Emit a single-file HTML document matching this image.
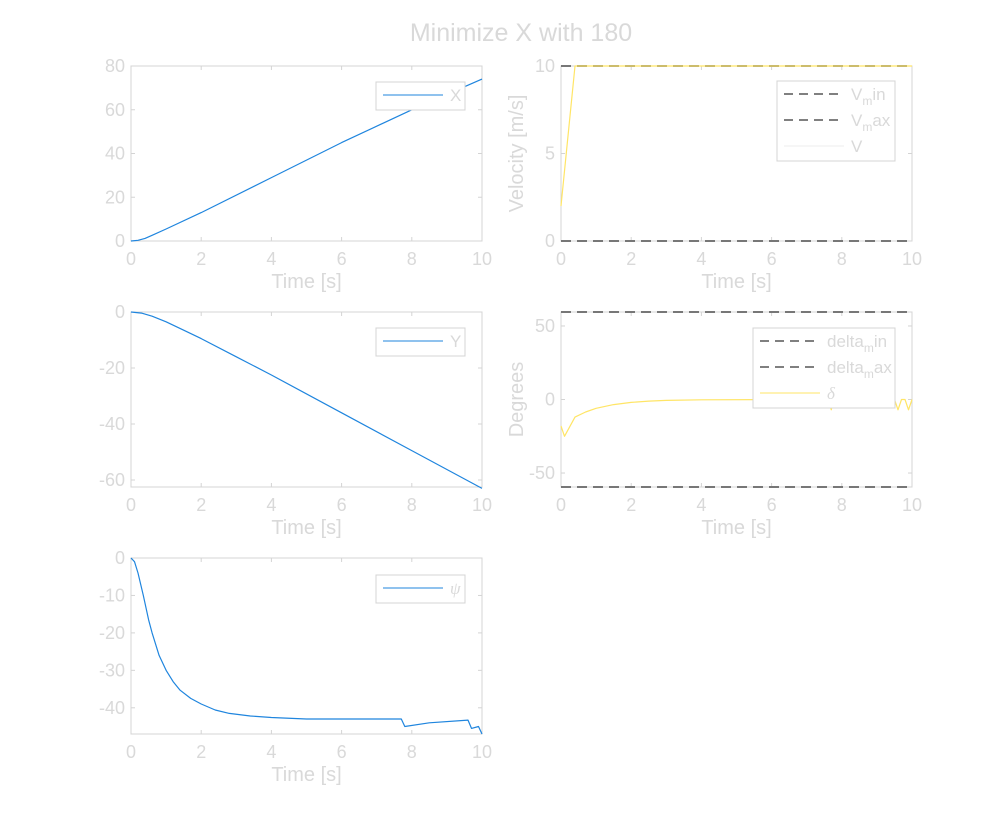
<!DOCTYPE html>
<html><head><meta charset="utf-8"><style>
body{margin:0;background:#fff;font-family:"Liberation Sans",sans-serif}
svg text{font-family:"Liberation Sans",sans-serif;fill:#d9d9d9}
</style></head><body>
<svg id="fig" width="1008" height="825">
<text x="521" y="41" font-size="25" text-anchor="middle">Minimize X with 180</text>
</svg>
<script>
const tX=[0,0.2,0.4,0.6,1,2,4,6,8,10];
const vX=[0,0.3,1.2,2.6,5.5,13,29,45,60,74];
const tY=[0,0.3,0.6,1,1.5,2,3,4,6,8,10];
const vY=[0,-0.4,-1.5,-3.5,-6.5,-9.5,-16,-22.5,-36,-49.5,-63];
const tV=[0,0.4,10];
const vV=[2,10,10];
const tD=[0,0.1,0.4,0.7,1,1.5,2,2.5,3,4,7.6,7.7,7.75,9.5,9.6,9.7,9.8,9.9,10];
const vD=[-18,-25,-12,-8.5,-6,-3.5,-2,-1.1,-0.6,-0.2,0,-7,0,0,-7,0,0,-7,0];
const tP=[0,0.1,0.2,0.35,0.5,0.6,0.8,1,1.2,1.4,1.7,2,2.4,2.8,3.4,4,5,7.7,7.8,8.5,9.6,9.7,9.9,10];
const vP=[0,-1,-4,-10,-16.5,-20,-26,-30,-33,-35.3,-37.5,-39,-40.6,-41.5,-42.2,-42.6,-43,-43,-45,-44,-43.3,-45.5,-45,-47];
const xTicks=[0,2,4,6,8,10];
const NS="http://www.w3.org/2000/svg";
const svg=document.getElementById('fig');
function el(t,a,p){const e=document.createElementNS(NS,t);for(const k in a)e.setAttribute(k,a[k]);(p||svg).appendChild(e);return e;}
function axes(name,L,T,W,H,ymin,ymax,yticks,ylabel){
 const g=el('g',{});
 
 
 const sx=t=>L+t/10*W, sy=v=>T+(ymax-v)/(ymax-ymin)*H;
 el('rect',{x:L,y:T,width:W,height:H,fill:'none',stroke:'#d4d4d4'},g);
 xTicks.forEach(t=>{el('line',{x1:sx(t),x2:sx(t),y1:T+H,y2:T+H-4,stroke:'#d4d4d4'},g);el('line',{x1:sx(t),x2:sx(t),y1:T,y2:T+4,stroke:'#d4d4d4'},g);
  const tx=el('text',{x:sx(t),y:T+H+24,'font-size':18,'text-anchor':'middle'},g);tx.textContent=t;});
 yticks.forEach(v=>{el('line',{x1:L,x2:L+4,y1:sy(v),y2:sy(v),stroke:'#d4d4d4'},g);el('line',{x1:L+W,x2:L+W-4,y1:sy(v),y2:sy(v),stroke:'#d4d4d4'},g);
  const tx=el('text',{x:L-6,y:sy(v)+6,'font-size':18,'text-anchor':'end'},g);tx.textContent=v;});
 const xl=el('text',{x:L+W/2,y:T+H+47,'font-size':20,'text-anchor':'middle'},g);xl.textContent='Time [s]';
 
 if(ylabel){const yl=el('text',{x:0,y:0,'font-size':20,'text-anchor':'middle',transform:`translate(${L-38},${T+H/2}) rotate(-90)`},g);yl.textContent=ylabel;
  }
 return {g,sx,sy};
}
function line(ax,ts,vs,color,name,extra){
 const d=ts.map((t,i)=>(i?'L':'M')+ax.sx(t).toFixed(1)+','+ax.sy(vs[i]).toFixed(1)).join('');
 const p=el('path',Object.assign({d,fill:'none',stroke:color,'stroke-width':1.2,'stroke-linejoin':'round'},extra||{}),ax.g);
 
 
}
function legend(ax,x,y,w,entries){
 const h=entries.length*26+2;
 const g=el('g',{},ax.g);
 
 
 el('rect',{x,y,width:w,height:h,fill:'#fff',stroke:'#d4d4d4'},g);
 entries.forEach((e,i)=>{const cy=y+13+i*26;
  el('line',{x1:x+7,x2:x+67,y1:cy,y2:cy,stroke:e.c,'stroke-width':1,'stroke-dasharray':e.dash||''},g);
  const t=el('text',{x:x+74,y:cy+6,'font-size':17},g);t.innerHTML=e.l;});
}
const BL='#1f85de',YL='#ffe566';
let a=axes('x-plot',131,66,351,175,0,80,[0,20,40,60,80]);
line(a,tX,vX,BL,'x-series');legend(a,376,82,89,[{c:BL,l:'X'}]);
a=axes('velocity-plot',561,66,351,175,0,10,[0,5,10],'Velocity [m/s]');
line(a,[0,10],[0,0],'#777','v-min-line',{'stroke-dasharray':'10,6','stroke-width':2});
line(a,[0,10],[10,10],'#777','v-max-line',{'stroke-dasharray':'10,6','stroke-width':2});
line(a,tV,vV,YL,'v-series');
legend(a,777,81,118,[{c:'#000',dash:'9,6',l:'V<tspan dy="5" font-size="12">m</tspan><tspan dy="-5">in</tspan>'},{c:'#000',dash:'9,6',l:'V<tspan dy="5" font-size="12">m</tspan><tspan dy="-5">ax</tspan>'},{c:'#eee',l:'V'}]);
a=axes('y-plot',131,312,351,175,-62.5,0,[-60,-40,-20,0]);
line(a,tY,vY,BL,'y-series');legend(a,376,328,89,[{c:BL,l:'Y'}]);
a=axes('delta-plot',561,312,351,175,-59.5,59.5,[-50,0,50],'Degrees');
line(a,[0,10],[-59.5,-59.5],'#777','delta-min-line',{'stroke-dasharray':'10,6','stroke-width':2});
line(a,[0,10],[59.5,59.5],'#777','delta-max-line',{'stroke-dasharray':'10,6','stroke-width':2});
line(a,tD,vD,YL,'delta-series');
legend(a,753,328,142,[{c:'#000',dash:'9,6',l:'delta<tspan dy="5" font-size="12">m</tspan><tspan dy="-5">in</tspan>'},{c:'#000',dash:'9,6',l:'delta<tspan dy="5" font-size="12">m</tspan><tspan dy="-5">ax</tspan>'},{c:YL,l:'<tspan font-style="italic" font-family="Liberation Serif">δ</tspan>'}]);
a=axes('psi-plot',131,558,351,176,-47,0,[-40,-30,-20,-10,0]);
line(a,tP,vP,BL,'psi-series');legend(a,376,575,89,[{c:BL,l:'<tspan font-style="italic" font-family="Liberation Serif">ψ</tspan>'}]);
</script>
</body></html>
